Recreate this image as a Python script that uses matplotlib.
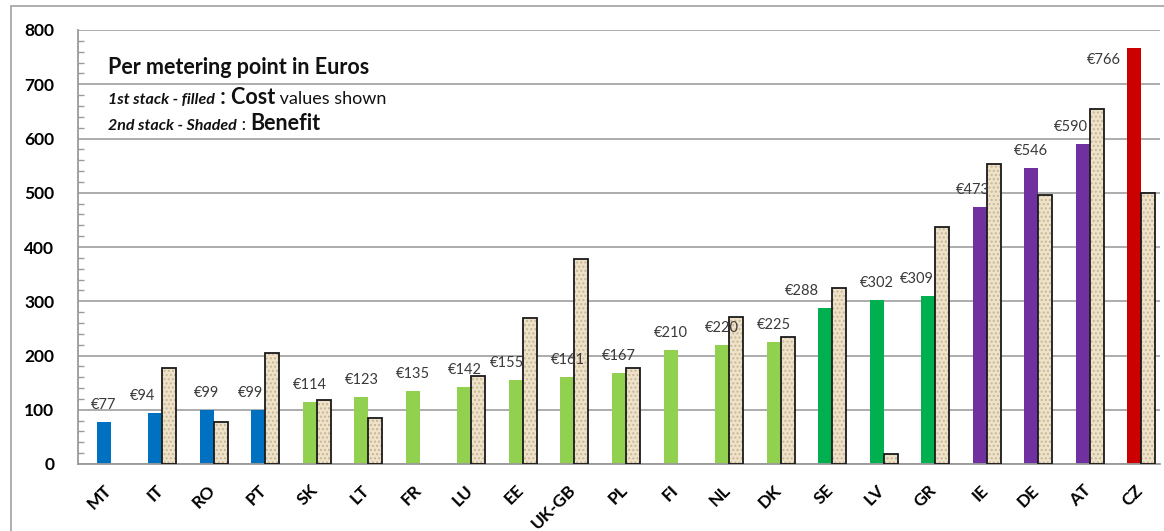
import numpy as np
import matplotlib
matplotlib.use("Agg")
import matplotlib.pyplot as plt
import matplotlib.transforms as mtransforms
from matplotlib.patches import Rectangle

plt.rcParams['font.family'] = ['Lato', 'DejaVu Sans']

countries = ["MT", "IT", "RO", "PT", "SK", "LT", "FR", "LU", "EE", "UK-GB", "PL",
             "FI", "NL", "DK", "SE", "LV", "GR", "IE", "DE", "AT", "CZ"]
cost = [77, 94, 99, 99, 114, 123, 135, 142, 155, 161, 167,
        210, 220, 225, 288, 302, 309, 473, 546, 590, 766]
benefit = [None, 177, 78, 204, 118, 84, None, 163, 270, 378, 177,
           None, 271, 235, 325, 18, 437, 553, 495, 655, 500]
groups = ["blue", "blue", "blue", "blue", "lgreen", "lgreen", "lgreen", "lgreen",
          "lgreen", "lgreen", "lgreen", "lgreen", "lgreen", "lgreen",
          "green", "green", "green", "purple", "purple", "purple", "red"]
yticks = [0, 100, 200, 300, 400, 500, 600, 700, 800]

group_colors = {"blue": "#0070C0", "lgreen": "#92D050", "green": "#00B050",
                "purple": "#7030A0", "red": "#CC0000"}
# label offsets in pixels (layout only)
label_dx = {1: -13, 3: -8, 8: -9, 14: -23, 16: -11, 17: -7, 19: -12}

fig = plt.figure(figsize=(11.64, 5.31), dpi=100)
ax = fig.add_axes([78 / 1164, (531 - 464) / 531, (1160 - 78) / 1164, (464 - 30) / 531])

x = np.arange(len(countries))
w = 0.272
ben = np.array([np.nan if b is None else b for b in benefit], dtype=float)

ax.bar(x, cost, w, color=[group_colors[g] for g in groups], linewidth=0, zorder=2)
ax.bar(x + w, ben, w, color="#EEE2CA", edgecolor="#C9B794", hatch="....",
       linewidth=0, zorder=2)
ax.bar(x + w, ben, w, fill=False, edgecolor="#1A1A1A", linewidth=1.3, zorder=3)

for i, c in enumerate(cost):
    if i == len(cost) - 1:
        dx, dy = -30, -12
    else:
        dx, dy = label_dx.get(i, 0), 17
    ax.annotate(f"€{c}", xy=(i, c), xytext=(dx, dy), textcoords="offset pixels",
                ha="center", va="center", fontsize=10.5, color="#3A3A3A", zorder=4)

ax.set_xlim(-0.5, len(countries) - 0.5)
ax.set_ylim(0, 800)
ax.set_yticks(yticks)
ax.set_yticks(np.arange(0, 801, 20), minor=True)
ax.set_yticklabels([str(v) for v in yticks], fontsize=12.5, fontweight="bold")
ax.tick_params(axis="y", which="major", length=0, pad=17)
ax.tick_params(axis="y", which="minor", direction="in", length=4, color="#9A9A9A", width=1)
ax.set_xticks(x)
ax.set_xticklabels(countries, rotation=45, ha="right", va="top",
                   rotation_mode="anchor", fontsize=12.5, fontweight="bold")
ax.tick_params(axis="x", length=0, pad=13)

ax.grid(axis="y", which="major", color="#A6A6A6", linewidth=1.3)
ax.set_axisbelow(True)
for s in ["top", "right"]:
    ax.spines[s].set_visible(False)
for s in ["left", "bottom"]:
    ax.spines[s].set_color("#9A9A9A")
    ax.spines[s].set_linewidth(1.3)

# annotation text block
x0 = (108 - 78) / 1082
bt = mtransforms.blended_transform_factory(ax.transAxes, ax.transData)


def chain(prev, s, y, **kw):
    return ax.annotate(s, xy=(1, y), xycoords=(prev, "data"), ha="left", va="baseline",
                       color="#111111", **kw)


ax.text(x0, 719, "Per metering point in Euros", transform=bt,
        fontsize=15.5, fontweight="bold", color="#111111", va="baseline", ha="left")
a1 = ax.text(x0, 664, "1st stack - filled", transform=bt, fontsize=11.5, fontweight="bold",
             fontstyle="italic", va="baseline", ha="left", color="#111111")
a2 = chain(a1, " : Cost", 664, fontsize=15.5, fontweight="bold")
a3 = chain(a2, " values shown", 664, fontsize=13)
b1 = ax.text(x0, 616, "2nd stack - Shaded", transform=bt, fontsize=11.5, fontweight="bold",
             fontstyle="italic", va="baseline", ha="left", color="#111111")
b2 = chain(b1, " : ", 616, fontsize=13)
b3 = chain(b2, "Benefit", 616, fontsize=15.5, fontweight="bold")

fig.add_artist(Rectangle((11 / 1164, -0.05), 1.2, (531 - 6) / 531 + 0.05,
                         transform=fig.transFigure, fill=False,
                         edgecolor="#A8A8A8", linewidth=1.3))

fig.savefig("out.png", dpi=100)
